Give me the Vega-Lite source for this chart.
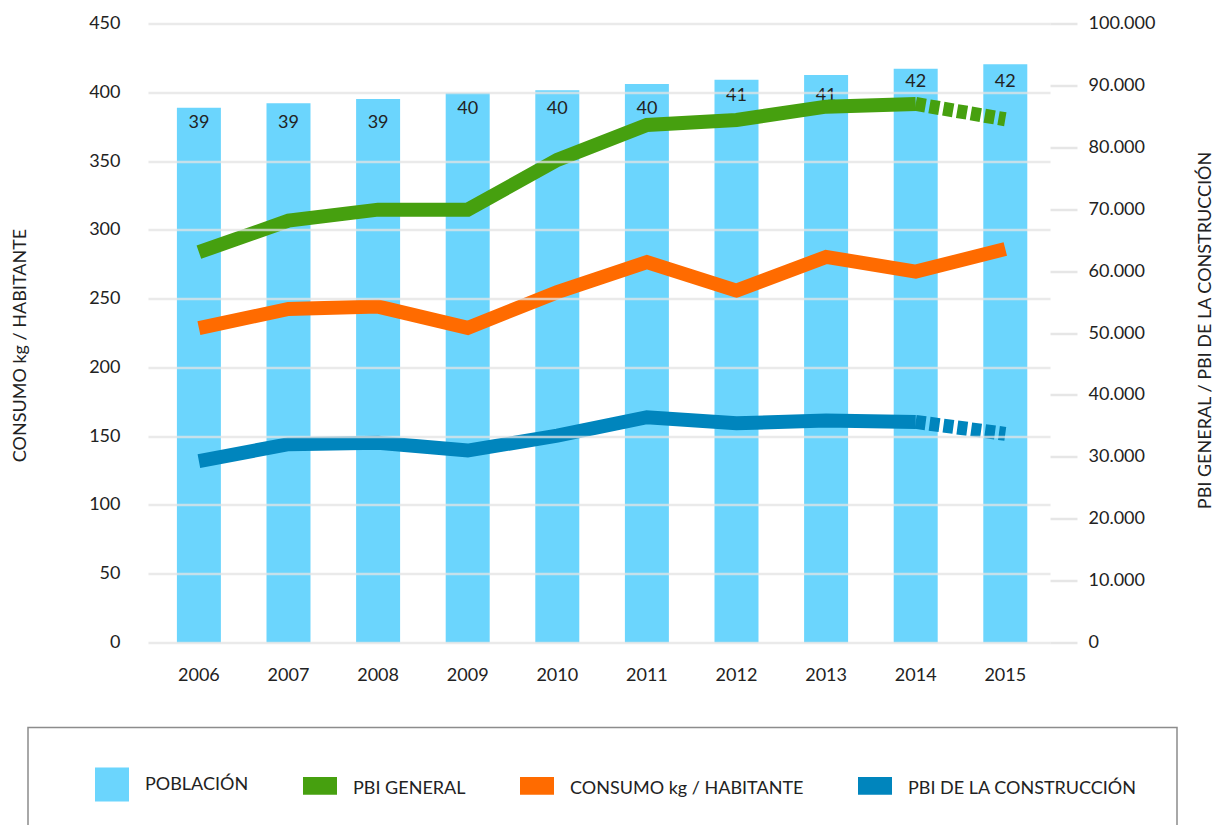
{
  "$schema": "https://vega.github.io/schema/vega-lite/v6.json",
  "width": 902,
  "height": 619,
  "autosize": {"type": "none"},
  "padding": {"left": 148, "top": 23.5, "right": 165, "bottom": 182.5},
  "background": "white",
  "config": {
    "font": "Lato",
    "view": {"stroke": null},
    "axis": {"labelFont": "Lato", "titleFont": "Lato", "labelColor": "#222222", "titleColor": "#222222", "titleFontWeight": "normal", "labelFontSize": 18, "titleFontSize": 18}
  },
  "data": {
    "values": [
      {"anio": 2006, "poblacion": 38.88, "etiqueta": 39, "consumo": 228.5, "pbi_general": 63050, "pbi_construccion": 29300},
      {"anio": 2007, "poblacion": 39.20, "etiqueta": 39, "consumo": 242.5, "pbi_general": 68150, "pbi_construccion": 32040},
      {"anio": 2008, "poblacion": 39.51, "etiqueta": 39, "consumo": 244.2, "pbi_general": 69930, "pbi_construccion": 32250},
      {"anio": 2009, "poblacion": 39.95, "etiqueta": 40, "consumo": 228.7, "pbi_general": 69930, "pbi_construccion": 31010},
      {"anio": 2010, "poblacion": 40.14, "etiqueta": 40, "consumo": 254.7, "pbi_general": 77960, "pbi_construccion": 33430},
      {"anio": 2011, "poblacion": 40.60, "etiqueta": 40, "consumo": 276.5, "pbi_general": 83610, "pbi_construccion": 36400},
      {"anio": 2012, "poblacion": 40.91, "etiqueta": 41, "consumo": 255.8, "pbi_general": 84420, "pbi_construccion": 35430},
      {"anio": 2013, "poblacion": 41.25, "etiqueta": 41, "consumo": 280.3, "pbi_general": 86560, "pbi_construccion": 35850},
      {"anio": 2014, "poblacion": 41.71, "etiqueta": 42, "consumo": 269.6, "pbi_general": 87000, "pbi_construccion": 35640},
      {"anio": 2015, "poblacion": 42.03, "etiqueta": 42, "consumo": 286.1, "pbi_general": 84530, "pbi_construccion": 33700}
    ]
  },
  "encoding": {
    "x": {
      "field": "anio", "type": "ordinal",
      "scale": {"paddingInner": 0.509, "paddingOuter": 0.288, "align": 0.56},
      "axis": {"title": null, "labelAngle": 0, "ticks": false, "tickSize": 0, "domain": false, "labelPadding": 24, "grid": false}
    }
  },
  "layer": [
    {
      "mark": {"type": "bar", "color": "#6bd5fd"},
      "encoding": {
        "y": {"field": "poblacion", "type": "quantitative", "scale": {"domain": [0, 45], "nice": false, "zero": true}, "axis": null},
        "color": {
          "datum": "POBLACIÓN", "type": "nominal",
          "scale": {
            "domain": ["POBLACIÓN", "PBI GENERAL", "CONSUMO kg / HABITANTE", "PBI DE LA CONSTRUCCIÓN"],
            "range": ["#6bd5fd", "#46a00f", "#ff6b00", "#0085bd"]
          },
          "legend": {
            "title": " ",
            "titleOrient": "left",
            "titlePadding": 27,
            "orient": "none",
            "legendX": -120,
            "legendY": 704,
            "direction": "horizontal",
            "columns": 4,
            "columnPadding": 54,
            "padding": 40,
            "strokeColor": "#8c8c8c",
            "symbolSize": 1156,
            "labelFontSize": 18,
            "labelFont": "Lato",
            "labelColor": "#222222",
            "labelOffset": 16,
            "labelLimit": 0,
            "symbolStrokeWidth": 0,
            "encode": {
              "legend": {"update": {"strokeWidth": {"value": 1.5}}},
              "symbols": {"update": {
                "shape": {"signal": "datum.value === 'POBLACIÓN' ? 'M-1,-1H1V1H-1Z' : 'M-1,-0.67H1V0.37H-1Z'"},
                "fill": {"scale": "color", "field": "value"},
                "stroke": {"value": "transparent"},
                "strokeWidth": {"value": 0},
                "opacity": {"value": 1},
                "fillOpacity": {"value": 1}
              }}
            }
          }
        }
      }
    },
    {
      "mark": {"type": "text", "color": "#222222", "fontSize": 18, "font": "Lato", "baseline": "middle", "dy": 17},
      "encoding": {
        "y": {"field": "etiqueta", "type": "quantitative", "scale": {"domain": [0, 45], "nice": false}, "axis": null},
        "text": {"field": "etiqueta", "type": "quantitative"}
      }
    },
    {
      "mark": {"type": "line", "strokeWidth": 14, "strokeCap": "butt", "strokeJoin": "miter"},
      "encoding": {
        "y": {
          "field": "consumo", "type": "quantitative",
          "scale": {"domain": [0, 450], "nice": false},
          "axis": {
            "orient": "left", "values": [0, 50, 100, 150, 200, 250, 300, 350, 400, 450],
            "title": "CONSUMO kg / HABITANTE", "titleX": -128, "titleY": 321.5, "titleAngle": -90,
            "titleAlign": "center", "titleBaseline": "middle",
            "ticks": false, "tickSize": 0, "domain": false, "labelPadding": 28,
            "grid": true, "gridColor": "#e3e3e3", "gridOpacity": 0.75, "gridWidth": 2.5, "zindex": 1
          }
        },
        "color": {"datum": "CONSUMO kg / HABITANTE", "type": "nominal"}
      }
    },
    {
      "transform": [{"filter": "datum.anio <= 2014"}],
      "mark": {"type": "line", "strokeWidth": 14, "strokeCap": "butt", "strokeJoin": "miter"},
      "encoding": {
        "y": {
          "field": "pbi_general", "type": "quantitative",
          "scale": {"domain": [0, 100000], "nice": false},
          "axis": {
            "orient": "right", "values": [0, 10000, 20000, 30000, 40000, 50000, 60000, 70000, 80000, 90000, 100000],
            "labelExpr": "replace(format(datum.value, ','), ',', '.')",
            "title": "PBI GENERAL / PBI DE LA CONSTRUCCIÓN", "titleX": 155, "titleY": 306.5, "titleAngle": -90,
            "titleAlign": "center", "titleBaseline": "middle",
            "ticks": true, "tickSize": 27, "tickColor": "#e6e6e6", "tickWidth": 2.5,
            "domain": false, "labelPadding": 11, "grid": false
          }
        },
        "color": {"datum": "PBI GENERAL", "type": "nominal"}
      }
    },
    {
      "transform": [{"filter": "datum.anio >= 2014"}],
      "mark": {"type": "line", "strokeWidth": 14, "strokeCap": "butt", "strokeJoin": "miter", "strokeDash": [10, 4]},
      "encoding": {
        "y": {"field": "pbi_general", "type": "quantitative", "scale": {"domain": [0, 100000], "nice": false}, "axis": null},
        "color": {"datum": "PBI GENERAL", "type": "nominal"}
      }
    },
    {
      "transform": [{"filter": "datum.anio <= 2014"}],
      "mark": {"type": "line", "strokeWidth": 14, "strokeCap": "butt", "strokeJoin": "miter"},
      "encoding": {
        "y": {"field": "pbi_construccion", "type": "quantitative", "scale": {"domain": [0, 100000], "nice": false}, "axis": null},
        "color": {"datum": "PBI DE LA CONSTRUCCIÓN", "type": "nominal"}
      }
    },
    {
      "transform": [{"filter": "datum.anio >= 2014"}],
      "mark": {"type": "line", "strokeWidth": 14, "strokeCap": "butt", "strokeJoin": "miter", "strokeDash": [10, 4]},
      "encoding": {
        "y": {"field": "pbi_construccion", "type": "quantitative", "scale": {"domain": [0, 100000], "nice": false}, "axis": null},
        "color": {"datum": "PBI DE LA CONSTRUCCIÓN", "type": "nominal"}
      }
    }
  ],
  "resolve": {"scale": {"y": "independent"}}
}
